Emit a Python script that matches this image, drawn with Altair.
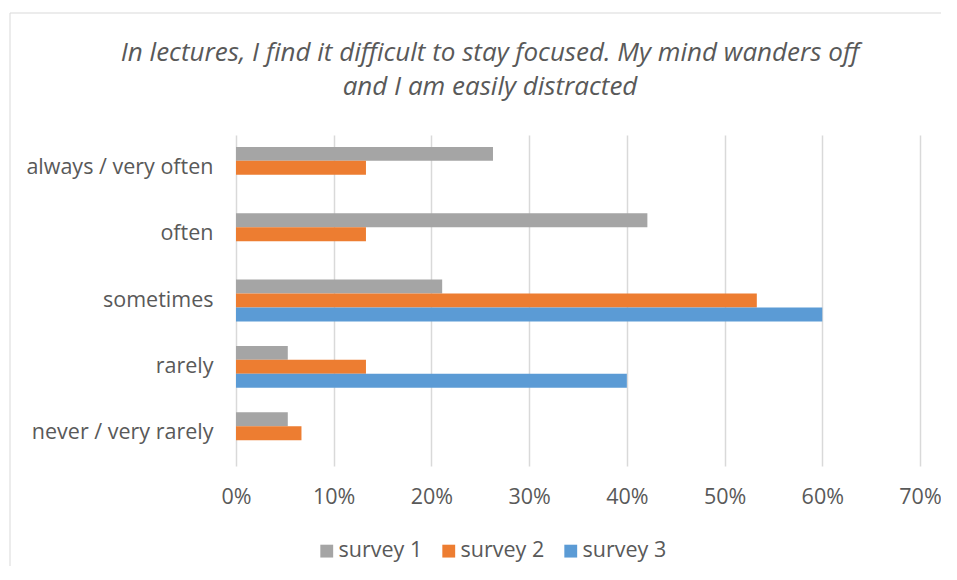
import altair as alt
import pandas as pd

categories = ["always / very often", "often", "sometimes", "rarely", "never / very rarely"]
series = ["survey 1", "survey 2", "survey 3"]
survey1 = [0.263, 0.421, 0.211, 0.053, 0.053]
survey2 = [0.133, 0.133, 0.533, 0.133, 0.067]
survey3 = [0.0, 0.0, 0.600, 0.400, 0.0]
colors = ["#A5A5A5", "#ED7D31", "#5B9BD5"]
x_ticks = [0, 0.1, 0.2, 0.3, 0.4, 0.5, 0.6, 0.7]
title_lines = ["In lectures, I find it difficult to stay focused. My mind wanders off",
               "and I am easily distracted"]

rows = []
for s, vals in zip(series, [survey1, survey2, survey3]):
    for c, v in zip(categories, vals):
        rows.append({"category": c, "survey": s, "value": v})
df = pd.DataFrame(rows)

FONT = "Open Sans"
TXT = "#595959"
FS = 21.5

bars = alt.Chart(df).mark_bar(strokeWidth=0).encode(
    y=alt.Y("category:N", sort=categories,
            scale=alt.Scale(paddingInner=0.37, paddingOuter=0.18),
            axis=alt.Axis(title=None, domain=False, ticks=False, tickSize=0,
                          labelPadding=23, labelFontSize=FS, labelColor=TXT,
                          labelFont=FONT, labelLimit=400, grid=False)),
    yOffset=alt.YOffset("survey:N", sort=series, scale=alt.Scale(paddingInner=0, paddingOuter=0)),
    x=alt.X("value:Q", scale=alt.Scale(domain=[0, 0.7], nice=False, zero=True),
            axis=alt.Axis(title=None, values=x_ticks, format=".0%", domain=False,
                          ticks=False, tickSize=0, labelPadding=20, labelFontSize=FS,
                          labelColor=TXT, labelFont=FONT, labelFlush=False, grid=True,
                          gridColor="#D9D9D9", gridWidth=1.5)),
    color=alt.Color("survey:N", sort=series,
                    scale=alt.Scale(domain=series, range=colors),
                    legend=alt.Legend(title=None, orient="none", direction="horizontal",
                                      legendX=80, legendY=405, symbolType="square",
                                      symbolSize=165, symbolStrokeWidth=0,
                                      labelFontSize=FS, labelColor=TXT, labelFont=FONT,
                                      labelOffset=1, columnPadding=15, labelLimit=300)),
)

border = alt.Chart(pd.DataFrame({"k": [0]})).mark_rect(
    fill=None, stroke="#D9D9D9", strokeWidth=1
).encode(x=alt.value(-226), x2=alt.value(900), y=alt.value(-122), y2=alt.value(700))

chart = alt.layer(border, bars).properties(
    width=684, height=331,
    title=alt.TitleParams(text=title_lines, fontSize=26, fontStyle="italic",
                          fontWeight="normal", color=TXT, font=FONT, anchor="middle",
                          frame="group", dx=-88, offset=-87, lineHeight=34),
    autosize=alt.AutoSizeParams(type="none"),
    padding={"left": 228, "top": 127, "right": 21, "bottom": 100},
).configure(background="white").configure_view(strokeWidth=0, stroke="transparent")

chart.save("out.html", embed_options={"renderer": "svg", "actions": False})
